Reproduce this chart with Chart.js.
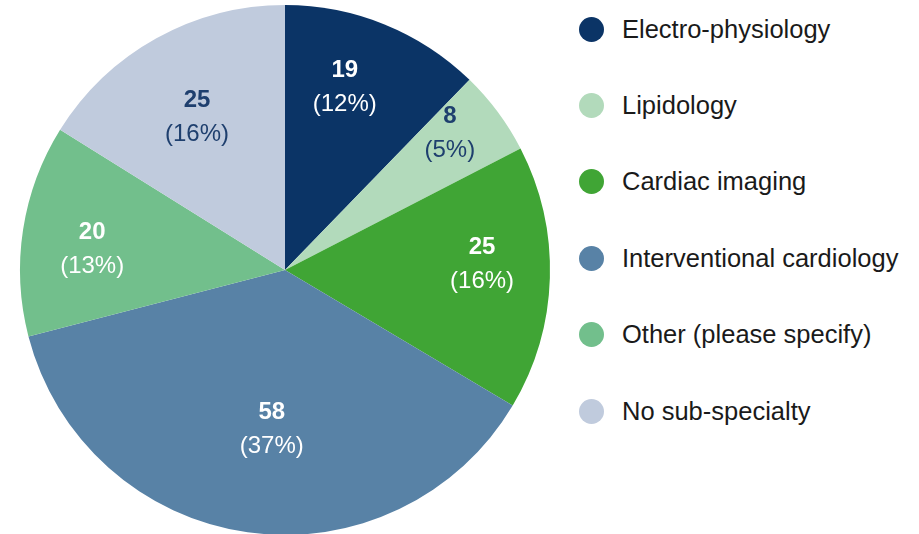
<!DOCTYPE html>
<html>
<head>
<meta charset="utf-8">
<script src="https://cdn.jsdelivr.net/npm/chart.js@4"></script>
<style>
    html, body { margin: 0; padding: 0; background: #fff; overflow: hidden; }
    #wrap { position: relative; width: 919px; height: 534px; }
    #pieBox { position: absolute; left: 0; top: 0; width: 570px; height: 540px; }
    #legend { position: absolute; left: 579px; top: 0; font-family: "Liberation Sans", Arial, sans-serif; font-size: 25.5px; color: #1a1a1a; }
    #legend .item { position: absolute; left: 0; white-space: nowrap; display: flex; align-items: center; height: 30px; }
    #legend .dot { width: 25px; height: 25px; border-radius: 50%; margin-right: 18px; }
</style>
</head>
<body>
<div id="wrap">
    <div id="pieBox"><canvas id="pieChart"></canvas></div>
    <div id="legend"></div>
</div>
<script>
// data
const categories = ['Electro-physiology', 'Lipidology', 'Cardiac imaging', 'Interventional cardiology', 'Other (please specify)', 'No sub-specialty'];
const counts = [19, 8, 25, 58, 20, 25];
const percents = [12, 5, 16, 37, 13, 16];

// styling
const sliceColors = ['#0b3466', '#b2dabb', '#40a535', '#5882a6', '#72bf8c', '#c0cbdd'];
const labelColors = ['#ffffff', '#1e3f6e', '#ffffff', '#ffffff', '#ffffff', '#1e3f6e'];
// where each label sits inside its slice: share of the radius, share of the slice angle
const labelRadius = [0.726, 0.809, 0.744, 0.602, 0.732, 0.666];
const labelAngle = [0.41, 0.33, 0.44, 0.475, 0.446, 0.485];

// slice labels: bold count + percentage underneath
const sliceLabels = {
    id: 'sliceLabels',
    afterDatasetsDraw(chart) {
        const ctx = chart.ctx;
        const arcs = chart.getDatasetMeta(0).data;
        ctx.save();
        ctx.textAlign = 'center';
        ctx.textBaseline = 'alphabetic';
        arcs.forEach(function (arc, i) {
            const p = arc.getProps(['x', 'y', 'startAngle', 'endAngle', 'outerRadius'], true);
            const a = p.startAngle + (p.endAngle - p.startAngle) * labelAngle[i];
            const r = p.outerRadius * labelRadius[i];
            const cx = p.x + Math.cos(a) * r;
            const cy = p.y + Math.sin(a) * r;
            ctx.fillStyle = labelColors[i];
            ctx.font = 'bold 24px "Liberation Sans", Arial, sans-serif';
            ctx.fillText(String(counts[i]), cx, cy - 10);
            ctx.font = '24px "Liberation Sans", Arial, sans-serif';
            ctx.fillText('(' + percents[i] + '%)', cx, cy + 24);
        });
        ctx.restore();
    }
};

document.addEventListener('DOMContentLoaded', function () {
    const pieCtx = document.getElementById('pieChart').getContext('2d');
    const pieChart = new Chart(pieCtx, {
        type: 'pie',
        data: {
            labels: categories,
            datasets: [{
                data: counts,
                backgroundColor: sliceColors,
                borderWidth: 0
            }]
        },
        options: {
            responsive: true,
            maintainAspectRatio: false,
            animation: false,
            layout: {
                padding: { top: 5, bottom: 5, left: 0, right: 0 }
            },
            plugins: {
                legend: { display: false },
                tooltip: { enabled: false }
            }
        },
        plugins: [sliceLabels]
    });

    // legend on the right
    const legend = document.getElementById('legend');
    categories.forEach(function (name, i) {
        const item = document.createElement('div');
        item.className = 'item';
        item.style.top = (14 + i * 76.4) + 'px';
        const dot = document.createElement('span');
        dot.className = 'dot';
        dot.style.background = sliceColors[i];
        const txt = document.createElement('span');
        txt.textContent = name;
        item.appendChild(dot);
        item.appendChild(txt);
        legend.appendChild(item);
    });

    window.pieChart = pieChart;
});
</script>
</body>
</html>
